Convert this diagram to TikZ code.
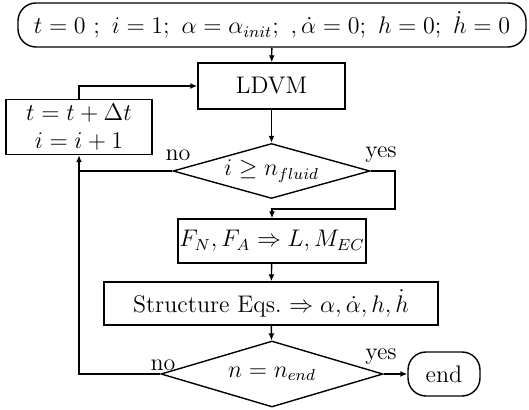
\documentclass[tikz,border=0pt]{standalone}
\usepackage{amsmath,amssymb}
\usepackage{tikz}
\usetikzlibrary{arrows.meta,shapes.geometric}

\begin{document}
\begin{tikzpicture}[x=0.5pt,y=0.5pt,
  box/.style={draw,line width=0.7pt,inner sep=0pt,font=\large},
  term/.style={box,rounded corners=9pt},
  cond/.style={draw,line width=0.7pt,diamond,inner sep=0pt,font=\large},
  lbl/.style={font=\large,inner sep=0pt},
  arr/.style={line width=0.7pt,-{Latex[length=3.5pt,width=3pt]}},
  ln/.style={line width=0.7pt}]
  \useasboundingbox (0,0) rectangle (529,-410);
  % blocks
  \node[term,minimum width=254pt,minimum height=22pt] (init) at (272,-25)
    {$t = 0\ ;\ i = 1;\ \alpha = \alpha_{init};\ ,\dot{\alpha} = 0;\ h = 0;\ \dot{h} = 0$};
  \node[box,minimum width=73.5pt,minimum height=23pt] (ldvm) at (271.5,-86) {LDVM};
  \node[box,align=center,minimum width=73pt,minimum height=27.5pt] (upd) at (79,-127)
    {$t = t + \Delta t$\\$i = i + 1$};
  \node[cond,aspect=3.6,minimum width=98.5pt,minimum height=27.5pt] (fluid) at (271.5,-171)
    {$i \geq n_{fluid}$};
  \node[box,minimum width=94pt,minimum height=22pt] (forces) at (272,-241)
    {$F_N, F_A \Rightarrow L, M_{EC}$};
  \node[box,minimum width=167pt,minimum height=21.5pt] (struct) at (271,-303.5)
    {Structure Eqs.\ $\Rightarrow \alpha, \dot{\alpha}, h, \dot{h}$};
  \node[cond,aspect=3.4,minimum width=111pt,minimum height=33pt] (last) at (272,-374)
    {$n = n_{end}$};
  \node[term,minimum width=36pt,minimum height=22pt] (stop) at (444,-374) {end};
  % labels
  \node[lbl] (no1) at (178,-155) {no};
  \node[lbl] (yes1) at (381,-155) {yes};
  \node[lbl] (no2) at (163,-365) {no};
  \node[lbl] (yes2) at (381,-357) {yes};
  % connectors
  \coordinate (turn) at (395,-209);
  \draw[arr] (init) -- (ldvm);
  \draw[arr] (upd.north) |- (ldvm.west);
  \draw[arr] (ldvm) -- (fluid);
  \draw[ln] (fluid.west) -- (fluid.west -| upd.south);
  \draw[arr] (fluid.east) -| (turn) -| (forces.north);
  \draw[arr] (forces) -- (struct);
  \draw[arr] (struct) -- (last);
  \draw[arr] (last.west) -| (upd.south);
  \draw[arr] (last.east) -- (stop.west);
\end{tikzpicture}
\end{document}
